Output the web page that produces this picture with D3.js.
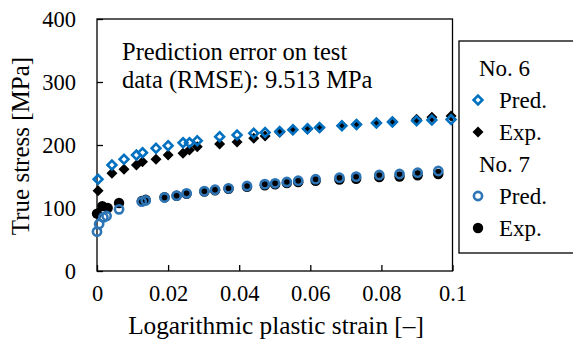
<!DOCTYPE html>
<html><head><meta charset="utf-8">
<script src="https://cdn.jsdelivr.net/npm/d3@7/dist/d3.min.js"></script>
<style>body{margin:0;background:#fff;} svg text{font-family:'Liberation Serif','Times New Roman',Times,serif;fill:#000;}</style>
</head><body>
<svg id="c" width="573" height="344"></svg>
<script>
const xTicks = [0, 0.02, 0.04, 0.06, 0.08, 0.1];
const xTickLabels = ["0", "0.02", "0.04", "0.06", "0.08", "0.1"];
const yTicks = [0, 100, 200, 300, 400];

const strain6 = [0.0003,0.0042,0.0076,0.0111,0.0128,0.0166,0.0200,0.0242,0.0260,0.0282,0.0345,0.0394,0.0441,0.0473,0.0514,0.0551,0.0592,0.0626,0.0689,0.0730,0.0786,0.0831,0.0899,0.0942,0.0996];
const pred6 = [145.6,168.3,177.3,184.1,187.8,194.8,198.9,203.7,203.7,206.8,213.2,215.9,218.6,219.8,221.4,224.3,225.9,227.8,230.6,232.4,234.9,236.5,238.4,239.7,240.3];
const exp6 = [127.5,155.1,161.4,168.3,173.5,177.3,184.1,186.8,192.1,197.3,201.6,204.8,210.6,214.3,220.2,223.8,225.4,227.5,230.6,232.9,235.4,237.3,241.0,244.0,246.2];

const strain7p = [0.0000,0.0006,0.0018,0.0027,0.0062,0.0126,0.0137,0.0190,0.0224,0.0252,0.0302,0.0332,0.0370,0.0422,0.0472,0.0501,0.0534,0.0566,0.0615,0.0682,0.0729,0.0794,0.0851,0.0902,0.0960];
const pred7 = [62.4,74.6,85.2,87.3,97.9,110.0,111.9,116.7,119.5,123.3,126.7,129.0,131.3,134.9,137.8,139.2,141.3,143.3,145.7,148.1,149.7,152.4,154.0,156.0,158.7];
const strain7e = [0.0000,0.0015,0.0030,0.0062,0.0126,0.0137,0.0190,0.0224,0.0252,0.0302,0.0332,0.0370,0.0422,0.0472,0.0501,0.0534,0.0566,0.0615,0.0682,0.0729,0.0794,0.0851,0.0902,0.0960];
const exp7 = [91,103,100,108,111,113,117,119.5,122.5,126,128,130.5,133.5,136,137.5,139.5,141,143,145,146.5,149,150,152,154];

const legendLabels = ["No. 6","Pred.","Exp.","No. 7","Pred.","Exp."];
const annotation = ["Prediction error on test","data (RMSE): 9.513 MPa"];

const FONT = "'Liberation Serif', 'Times New Roman', serif";
const svg = d3.select("#c");
const L=97, R=452.5, T=19, B=271;
const x = d3.scaleLinear().domain([0,0.1]).range([L,R]);
const y = d3.scaleLinear().domain([0,400]).range([B,T]);

const blueD = "#0070C0", blueC = "#2E75B6";

svg.append("rect").attr("x",L).attr("y",T).attr("width",R-L).attr("height",B-T)
  .attr("fill","none").attr("stroke","#000").attr("stroke-width",1.3);

const xAxis = d3.axisBottom(x).tickValues(xTicks).tickSize(-6).tickPadding(14)
  .tickFormat((d,i)=>xTickLabels[i]);
const gx = svg.append("g").attr("transform",`translate(0,${B})`).call(xAxis).attr("font-family",FONT);
gx.select(".domain").remove();
gx.selectAll("text").style("font-size","22.5px").style("font-family",FONT);
gx.selectAll("line").attr("stroke","#000").attr("stroke-width",1.3);

const yAxis = d3.axisLeft(y).tickValues(yTicks).tickSize(-6).tickPadding(21);
const gy = svg.append("g").attr("transform",`translate(${L},0)`).call(yAxis).attr("font-family",FONT);
gy.select(".domain").remove();
gy.selectAll("text").style("font-size","22.5px").style("font-family",FONT);
gy.selectAll("line").attr("stroke","#000").attr("stroke-width",1.3);

svg.append("text").attr("x",276).attr("y",334).attr("text-anchor","middle")
  .style("font-size","25.3px").style("font-family",FONT).text("Logarithmic plastic strain [\u2013]");
svg.append("text").attr("transform","translate(29,146) rotate(-90)").attr("text-anchor","middle")
  .style("font-size","25px").style("font-family",FONT).text("True stress [MPa]");

annotation.forEach((t,i)=>{
  svg.append("text").attr("x",122).attr("y",60+i*28).style("font-size","24.5px").style("font-family",FONT).text(t);
});

function diamondPath(s){ return `M0,${-s}L${s},0L0,${s}L${-s},0Z`; }

const plot = svg.append("g");
plot.selectAll(".e6").data(strain6.map((s,i)=>[s,exp6[i]])).join("path")
  .attr("d",diamondPath(5.5)).attr("transform",d=>`translate(${x(d[0])},${y(d[1])})`)
  .attr("fill","#000");
plot.selectAll(".e7").data(strain7e.map((s,i)=>[s,exp7[i]])).join("circle")
  .attr("cx",d=>x(d[0])).attr("cy",d=>y(d[1])).attr("r",5.2).attr("fill","#000");
plot.selectAll(".p6").data(strain6.map((s,i)=>[s,pred6[i]])).join("path")
  .attr("d",diamondPath(4.4)).attr("transform",d=>`translate(${x(d[0])},${y(d[1])})`)
  .attr("fill","none").attr("stroke",blueD).attr("stroke-width",2.6);
plot.selectAll(".p7").data(strain7p.map((s,i)=>[s,pred7[i]])).join("circle")
  .attr("cx",d=>x(d[0])).attr("cy",d=>y(d[1])).attr("r",4.1)
  .attr("fill","none").attr("stroke",blueC).attr("stroke-width",2.6);

svg.append("rect").attr("x",459).attr("y",41).attr("width",120).attr("height",212)
  .attr("fill","#fff").attr("stroke","#000").attr("stroke-width",1.3);
const rowY = [68,100,132,164,196,228];
legendLabels.forEach((t,i)=>{
  const isHeader = (i===0||i===3);
  svg.append("text").attr("x",isHeader?479:499).attr("y",rowY[i]+8)
    .style("font-size","23px").style("font-family",FONT).text(t);
});
svg.append("path").attr("d",diamondPath(4.4)).attr("transform",`translate(478,${rowY[1]})`)
  .attr("fill","none").attr("stroke",blueD).attr("stroke-width",2.6);
svg.append("path").attr("d",diamondPath(5.5)).attr("transform",`translate(478,${rowY[2]})`)
  .attr("fill","#000");
svg.append("circle").attr("cx",478).attr("cy",rowY[4]).attr("r",4.1)
  .attr("fill","none").attr("stroke",blueC).attr("stroke-width",2.6);
svg.append("circle").attr("cx",478).attr("cy",rowY[5]).attr("r",5.2).attr("fill","#000");
</script>
</body></html>
